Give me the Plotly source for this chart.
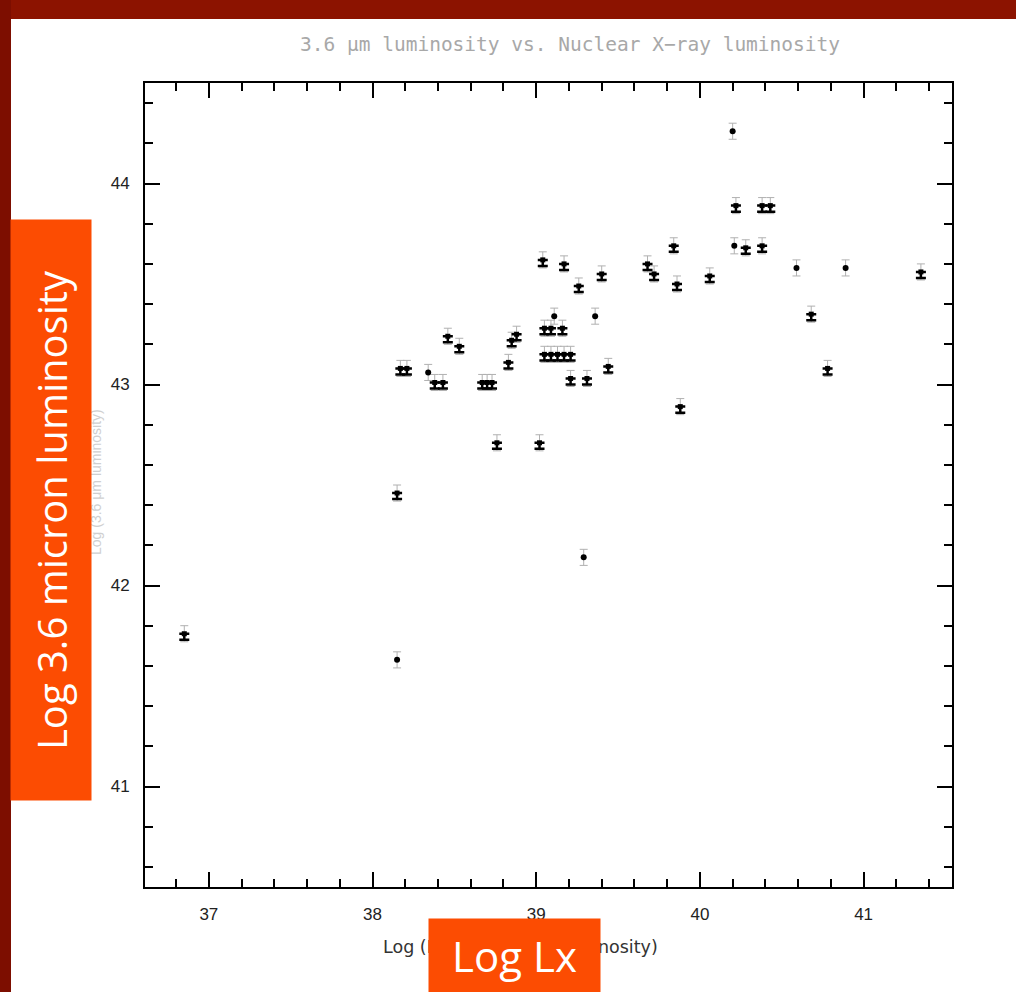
import plotly.graph_objects as go

# ---- data ----
# points drawn with the "1"-shaped error glyph
lx = [36.85, 38.15, 38.17, 38.21, 38.38, 38.43, 38.46, 38.53, 38.67, 38.70, 38.73,
      38.76, 38.83, 38.85, 38.88, 39.02, 39.04, 39.05, 39.09, 39.16, 39.05, 39.09,
      39.13, 39.17, 39.21, 39.17, 39.21, 39.26, 39.31, 39.40, 39.44, 39.68, 39.72,
      39.84, 39.86, 39.88, 40.06, 40.22, 40.28, 40.38, 40.38, 40.43, 40.68, 40.78,
      41.35]
l36 = [41.76, 42.46, 43.08, 43.08, 43.01, 43.01, 43.24, 43.19, 43.01, 43.01, 43.01,
       42.71, 43.11, 43.22, 43.25, 42.71, 43.62, 43.28, 43.28, 43.28, 43.15, 43.15,
       43.15, 43.15, 43.15, 43.60, 43.03, 43.49, 43.03, 43.55, 43.09, 43.60, 43.55,
       43.69, 43.50, 42.89, 43.54, 43.89, 43.68, 43.69, 43.89, 43.89, 43.35, 43.08,
       43.56]
# points drawn as plain dots
dot_lx = [38.15, 38.34, 39.11, 39.29, 39.36, 40.20, 40.21, 40.59, 40.89]
dot_l36 = [41.63, 43.06, 43.34, 42.14, 43.34, 44.26, 43.69, 43.58, 43.58]
err = 0.04

x_ticks = [37, 38, 39, 40, 41]
y_ticks = [41, 42, 43, 44]

title_text = "3.6 \u03bcm luminosity vs. Nuclear X\u2212ray luminosity"
xtitle_text = "Log (Nuclear X\u2212ray luminosity)"
ytitle_text = "Log (3.6 \u03bcm luminosity)"
xbox_text = "Log Lx"
ybox_text = "Log 3.6 micron luminosity"

# ---- layout geometry (pixels) ----
W, H = 1016, 992
L, R, T, B = 145, 952, 83, 887


def px(xp):
    return (xp - L) / (R - L)


def py(yp):
    return (B - yp) / (B - T)


fig = go.Figure()

# gray upper/lower error bars
fig.add_trace(go.Scatter(
    x=lx + dot_lx, y=l36 + dot_l36, mode="markers",
    marker=dict(size=1, color="rgba(0,0,0,0)"),
    error_y=dict(type="constant", value=err, color="#b0b0b0", thickness=1, width=4),
    hoverinfo="skip", showlegend=False))
# black base of the glyph
fig.add_trace(go.Scatter(
    x=lx, y=l36, mode="markers",
    marker=dict(size=1, color="rgba(0,0,0,0)"),
    error_y=dict(type="data", symmetric=False, array=[0] * len(lx),
                 arrayminus=[0.03] * len(lx), color="black", thickness=2.5, width=5),
    hoverinfo="skip", showlegend=False))
fig.add_trace(go.Scatter(
    x=lx, y=l36, mode="markers",
    marker=dict(size=5, color="black", symbol="square"),
    showlegend=False))
fig.add_trace(go.Scatter(
    x=dot_lx, y=dot_l36, mode="markers",
    marker=dict(size=6, color="black", symbol="circle"),
    showlegend=False))

axis_common = dict(
    showline=True, linecolor="black", linewidth=2, mirror="allticks",
    ticks="inside", ticklen=15, tickwidth=2, tickcolor="black",
    showgrid=False, zeroline=False,
    tickfont=dict(family="Liberation Sans Narrow, Liberation Sans", size=17, color="#222222"),
    minor=dict(ticks="inside", dtick=0.2, tick0=0, ticklen=8, tickwidth=2,
               tickcolor="black", showgrid=False),
)

fig.update_xaxes(range=[36.61, 41.54], tickvals=x_ticks, ticktext=[str(v) for v in x_ticks],
                 ticklabelstandoff=11, **axis_common)
fig.update_yaxes(range=[40.5, 44.5], tickvals=y_ticks, ticktext=[str(v) for v in y_ticks],
                 ticklabelstandoff=10, **axis_common)

shapes = [
    dict(type="rect", xref="paper", yref="paper", x0=px(0), x1=px(W), y0=py(19), y1=py(0),
         fillcolor="#8c1300", line=dict(width=0), layer="below"),
    dict(type="rect", xref="paper", yref="paper", x0=px(0), x1=px(11), y0=py(H), y1=py(0),
         fillcolor="#7d0e00", line=dict(width=0), layer="below"),
]

annotations = [
    dict(text=title_text, xref="paper", yref="paper", x=px(570), y=py(44),
         showarrow=False, xanchor="center", yanchor="middle",
         font=dict(family="DejaVu Sans Mono", size=19.5, color="#a8a8a8")),
    dict(text=xtitle_text, xref="paper", yref="paper", x=px(520), y=py(947),
         showarrow=False, xanchor="center", yanchor="middle",
         font=dict(family="DejaVu Sans", size=17.5, color="#333333")),
    dict(text=ytitle_text, xref="paper", yref="paper", x=px(96), y=py(482),
         showarrow=False, xanchor="center", yanchor="middle", textangle=-90,
         font=dict(family="Liberation Sans", size=14, color="#d0d0d0")),
    dict(text=ybox_text, xref="paper", yref="paper", x=px(51), y=py(510),
         showarrow=False, xanchor="center", yanchor="middle", textangle=-90,
         width=580, height=80, bgcolor="#fc4c02", borderpad=0,
         font=dict(family="Open Sans", size=40, color="white")),
    dict(text=xbox_text, xref="paper", yref="paper", x=px(514.5), y=py(955.5),
         showarrow=False, xanchor="center", yanchor="middle",
         width=171, height=73, bgcolor="#fc4c02", borderpad=0,
         font=dict(family="Open Sans", size=42, color="white")),
]

fig.update_layout(
    width=W, height=H,
    margin=dict(l=L, r=W - R, t=T, b=H - B),
    paper_bgcolor="white", plot_bgcolor="white",
    shapes=shapes, annotations=annotations,
    showlegend=False,
)

fig.write_html("out.html")
